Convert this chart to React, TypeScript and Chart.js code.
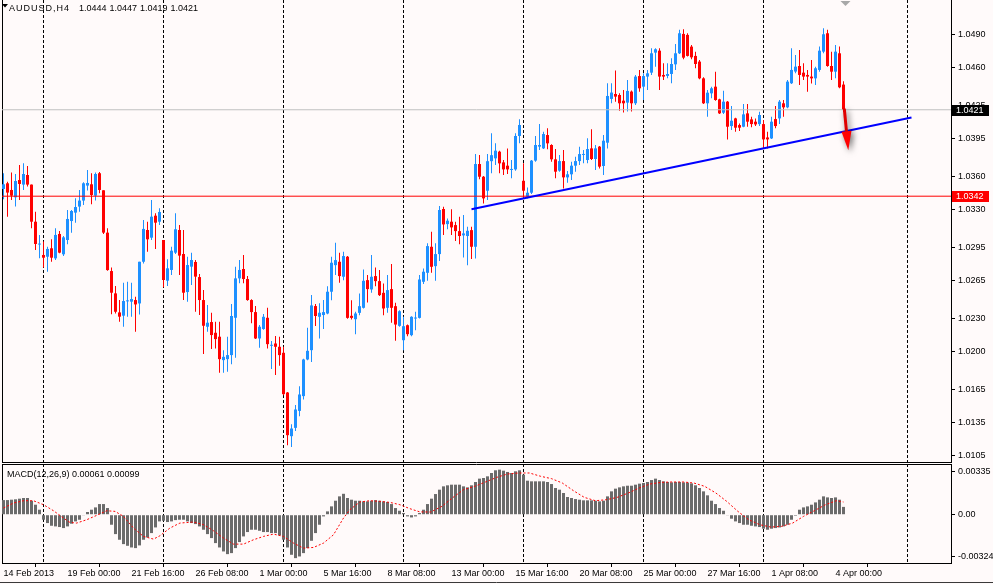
import { useEffect, useRef } from "react";
import { Chart, registerables } from "chart.js";

Chart.register(...registerables);

const BG = "#fffafa";
const BULL = "#1e90ff";
const BEAR = "#ff0000";
const FAMILY = "'Liberation Sans', Arial, sans-serif";
const FONT = { family: FAMILY, size: 9 };

// AUDUSD H4, bar 0 = 14 Feb 2013 08:00
const opens = [
  1.03486, 1.03538, 1.03477, 1.0341, 1.03568, 1.03526, 1.03614, 1.03526, 1.03187, 1.02978,
  1.02883, 1.02867, 1.02944, 1.02852, 1.03075, 1.02889, 1.0302, 1.03193, 1.0327, 1.03325,
  1.0338, 1.03517, 1.03529, 1.03425, 1.0363, 1.03474, 1.03087, 1.02736, 1.02532, 1.02358,
  1.02328, 1.02459, 1.02456, 1.02471, 1.0244, 1.02821, 1.03111, 1.03041, 1.03242, 1.03187,
  1.0302, 1.02648, 1.02746, 1.02904, 1.03111, 1.02892, 1.02544, 1.02776, 1.02819, 1.02681,
  1.02471, 1.02227, 1.0227, 1.02172, 1.02136, 1.01922, 1.01931, 1.01968, 1.02309, 1.02669,
  1.02755, 1.02663, 1.02471, 1.02361, 1.0212, 1.02206, 1.02309, 1.02053, 1.02074, 1.02044,
  1.01989, 1.01626, 1.01227, 1.01303, 1.01458, 1.01593, 1.01928, 1.02013, 1.02416, 1.02318,
  1.02334, 1.02348, 1.02547, 1.0279, 1.02821, 1.02684, 1.02867, 1.02327, 1.02296, 1.02354,
  1.024, 1.02653, 1.02568, 1.0269, 1.02644, 1.02537, 1.024, 1.02571, 1.02415, 1.02235,
  1.02104, 1.02241, 1.0215, 1.02302, 1.02308, 1.02638, 1.0272, 1.02958, 1.02781, 1.02891,
  1.03303, 1.03165, 1.03187, 1.03156, 1.03101, 1.03062, 1.03056, 1.0311, 1.02958, 1.03714,
  1.03598, 1.0347, 1.0374, 1.03766, 1.03827, 1.03729, 1.03699, 1.0366, 1.03665, 1.0397,
  1.03561, 1.03415, 1.03452, 1.03745, 1.03873, 1.03857, 1.03979, 1.03888, 1.03757, 1.03653,
  1.03741, 1.03592, 1.0362, 1.03699, 1.03741, 1.03797, 1.03751, 1.03857, 1.0376, 1.03873,
  1.03696, 1.03909, 1.04309, 1.04354, 1.04345, 1.04293, 1.04275, 1.04376, 1.04269, 1.04518,
  1.04421, 1.04513, 1.04549, 1.04732, 1.0475, 1.04528, 1.04519, 1.04537, 1.04625, 1.04726,
  1.04903, 1.04894, 1.04787, 1.04702, 1.0465, 1.04497, 1.04269, 1.0436, 1.04421, 1.04305,
  1.04183, 1.04284, 1.04061, 1.04131, 1.0407, 1.04055, 1.04177, 1.04122, 1.04101, 1.04079,
  1.04079, 1.03957, 1.03948, 1.04125, 1.04131, 1.04269, 1.04232, 1.04452, 1.04559, 1.0461,
  1.04549, 1.04528, 1.04513, 1.04497, 1.04574, 1.04741, 1.04909, 1.0461, 1.04558, 1.04726,
  1.0444,
];
const highs = [
  1.0363, 1.03553, 1.03636, 1.03623, 1.03706, 1.03721, 1.03697, 1.03526, 1.03279, 1.03066,
  1.03005, 1.02959, 1.03026, 1.03127, 1.03102, 1.03056, 1.03294, 1.03294, 1.03401, 1.03477,
  1.03547, 1.0366, 1.0363, 1.03636, 1.03642, 1.03474, 1.03127, 1.02769, 1.02599, 1.02471,
  1.0263, 1.02639, 1.0263, 1.02501, 1.02821, 1.03203, 1.03187, 1.03386, 1.03264, 1.03309,
  1.0302, 1.02843, 1.02959, 1.03264, 1.03157, 1.03112, 1.02867, 1.02904, 1.02837, 1.02709,
  1.02563, 1.02425, 1.02355, 1.02273, 1.02273, 1.02013, 1.02136, 1.02435, 1.02776, 1.02837,
  1.02883, 1.02691, 1.02478, 1.02416, 1.02242, 1.02343, 1.02401, 1.02096, 1.02142, 1.02136,
  1.02044, 1.0163, 1.01336, 1.01511, 1.01684, 1.01935, 1.02218, 1.02517, 1.02435, 1.02441,
  1.02471, 1.02598, 1.02867, 1.02995, 1.02903, 1.02912, 1.02873, 1.0247, 1.02363, 1.02531,
  1.02751, 1.02699, 1.02882, 1.02769, 1.02745, 1.02623, 1.02699, 1.028, 1.02446, 1.02378,
  1.02318, 1.02247, 1.02324, 1.02363, 1.02699, 1.0276, 1.02989, 1.03095, 1.02989, 1.0333,
  1.03324, 1.03217, 1.033, 1.03187, 1.03233, 1.03248, 1.03141, 1.03141, 1.03806, 1.03797,
  1.03605, 1.03806, 1.03995, 1.03903, 1.03836, 1.03751, 1.03857, 1.03751, 1.03995, 1.04123,
  1.0372, 1.035, 1.03751, 1.0397, 1.0408, 1.0401, 1.0404, 1.03894, 1.03851, 1.03797,
  1.03842, 1.0365, 1.03735, 1.03781, 1.03873, 1.03842, 1.03949, 1.04031, 1.03888, 1.03879,
  1.03979, 1.04452, 1.04452, 1.04568, 1.04361, 1.04391, 1.04483, 1.04385, 1.04528, 1.04574,
  1.04543, 1.04574, 1.04772, 1.04772, 1.04772, 1.04635, 1.04635, 1.0468, 1.04811, 1.0494,
  1.04946, 1.04909, 1.04802, 1.04741, 1.04665, 1.04506, 1.04391, 1.04421, 1.04558, 1.04311,
  1.04384, 1.0429, 1.04244, 1.04137, 1.04085, 1.04262, 1.04262, 1.04146, 1.04131, 1.04192,
  1.04116, 1.04009, 1.04146, 1.04244, 1.04299, 1.04299, 1.04482, 1.04772, 1.04711, 1.04756,
  1.04635, 1.04574, 1.04665, 1.04604, 1.04787, 1.04955, 1.0494, 1.04741, 1.04802, 1.04787,
  1.0447,
];
const lows = [
  1.03392, 1.03233, 1.03386, 1.03325, 1.03386, 1.03477, 1.03508, 1.03126, 1.02928, 1.02852,
  1.02769, 1.0273, 1.02822, 1.02837, 1.02898, 1.02873, 1.0298, 1.03087, 1.03178, 1.03279,
  1.0334, 1.03471, 1.03346, 1.0338, 1.03447, 1.03075, 1.02739, 1.02342, 1.02349, 1.02272,
  1.02227, 1.02319, 1.02319, 1.02181, 1.02339, 1.02806, 1.02913, 1.0302, 1.02937, 1.03157,
  1.02587, 1.02599, 1.027, 1.02892, 1.027, 1.02471, 1.02456, 1.02608, 1.02364, 1.02334,
  1.01977, 1.02181, 1.02023, 1.02029, 1.01806, 1.01806, 1.01815, 1.01885, 1.01943, 1.02624,
  1.02624, 1.02465, 1.02258, 1.02114, 1.02035, 1.022, 1.02029, 1.0184, 1.01785, 1.0187,
  1.01602, 1.01144, 1.01129, 1.01275, 1.0141, 1.01562, 1.0192, 1.01904, 1.02233, 1.0212,
  1.02206, 1.02342, 1.0247, 1.02699, 1.02629, 1.02653, 1.023, 1.02293, 1.02159, 1.02333,
  1.02394, 1.02449, 1.02537, 1.02598, 1.02507, 1.02333, 1.02354, 1.02263, 1.02098, 1.02226,
  1.02013, 1.02141, 1.02141, 1.02196, 1.02302, 1.02617, 1.02647, 1.0272, 1.02647, 1.02827,
  1.03065, 1.03117, 1.03065, 1.0301, 1.02982, 1.0286, 1.0279, 1.02845, 1.02851, 1.03574,
  1.03354, 1.03385, 1.03629, 1.03705, 1.03629, 1.03613, 1.03622, 1.03583, 1.03653, 1.03903,
  1.034, 1.034, 1.03439, 1.03735, 1.03842, 1.03851, 1.03848, 1.03735, 1.03583, 1.03644,
  1.03491, 1.03543, 1.03568, 1.03644, 1.03705, 1.0372, 1.0372, 1.03751, 1.03659, 1.03674,
  1.03613, 1.03857, 1.04269, 1.04284, 1.04202, 1.04184, 1.04193, 1.04193, 1.04254, 1.04375,
  1.04299, 1.04391, 1.04528, 1.04604, 1.04391, 1.04482, 1.04497, 1.04452, 1.04574, 1.0472,
  1.04671, 1.04696, 1.04671, 1.04589, 1.04488, 1.04262, 1.04147, 1.04314, 1.04293, 1.04171,
  1.04171, 1.03939, 1.04024, 1.04009, 1.04015, 1.04049, 1.04055, 1.04049, 1.04061, 1.04061,
  1.03857, 1.03857, 1.03942, 1.0404, 1.04079, 1.04146, 1.04223, 1.04445, 1.04543, 1.04436,
  1.04482, 1.04375, 1.04451, 1.04436, 1.04558, 1.04726, 1.04604, 1.04482, 1.04497, 1.04406,
  1.0419,
];
const closes = [
  1.03529, 1.03453, 1.03425, 1.03559, 1.03532, 1.03623, 1.03526, 1.03187, 1.02983, 1.02986,
  1.02858, 1.02938, 1.02858, 1.03066, 1.02904, 1.03044, 1.03212, 1.03285, 1.03321, 1.0338,
  1.03538, 1.03541, 1.03431, 1.03623, 1.03477, 1.03087, 1.02745, 1.02538, 1.02364, 1.02319,
  1.02462, 1.02468, 1.0248, 1.02431, 1.02821, 1.03121, 1.03026, 1.03233, 1.03178, 1.03276,
  1.02654, 1.02761, 1.02922, 1.03118, 1.02877, 1.02538, 1.02791, 1.02837, 1.02685, 1.02471,
  1.02236, 1.02264, 1.02151, 1.02114, 1.01931, 1.01952, 1.01968, 1.02325, 1.02669, 1.02746,
  1.02663, 1.02471, 1.02361, 1.0212, 1.02227, 1.02318, 1.02068, 1.02062, 1.02044, 1.01968,
  1.01611, 1.01236, 1.01297, 1.01471, 1.01608, 1.01928, 1.02007, 1.02422, 1.02325, 1.02355,
  1.02361, 1.02547, 1.02812, 1.02836, 1.0269, 1.02873, 1.02308, 1.02308, 1.02348, 1.02415,
  1.02647, 1.02571, 1.02684, 1.02644, 1.02516, 1.02394, 1.02562, 1.024, 1.02247, 1.02369,
  1.02232, 1.02159, 1.02318, 1.02311, 1.02659, 1.0273, 1.02964, 1.02775, 1.02891, 1.03294,
  1.03162, 1.03196, 1.03135, 1.03101, 1.03056, 1.0308, 1.03104, 1.02958, 1.03714, 1.03598,
  1.034, 1.0374, 1.03795, 1.03836, 1.0372, 1.03665, 1.03665, 1.03668, 1.0397, 1.04071,
  1.0347, 1.03452, 1.03745, 1.03888, 1.03888, 1.03988, 1.03903, 1.03757, 1.03644, 1.03741,
  1.03592, 1.0362, 1.03699, 1.03741, 1.03805, 1.03805, 1.03851, 1.0376, 1.03857, 1.0369,
  1.03927, 1.04336, 1.04367, 1.0433, 1.04269, 1.04269, 1.04382, 1.04269, 1.04513, 1.04406,
  1.04518, 1.04543, 1.04726, 1.04763, 1.04513, 1.04513, 1.04537, 1.04628, 1.04726, 1.04909,
  1.04686, 1.04702, 1.04689, 1.04628, 1.04497, 1.04269, 1.04366, 1.04406, 1.04299, 1.04177,
  1.04284, 1.04055, 1.0411, 1.04046, 1.04046, 1.04168, 1.04101, 1.04079, 1.04076, 1.04162,
  1.03939, 1.03939, 1.04101, 1.04061, 1.04284, 1.04232, 1.04467, 1.04574, 1.04604, 1.04528,
  1.04513, 1.04513, 1.04497, 1.04589, 1.0475, 1.049, 1.0461, 1.04558, 1.04741, 1.04415,
  1.0421,
];

// MACD(12,26,9) main line per bar, in units of 0.00001
const macdMain = [
  114, 114, 117, 120, 125, 130, 130, 109, 78, 39,
  -39, -65, -86, -91, -96, -104, -91, -70, -52, -39,
  -5, 21, 39, 57, 83, 83, 52, -78, -151, -195,
  -229, -242, -255, -260, -239, -195, -177, -143, -99, -52,
  -47, -57, -52, -42, -39, -39, -52, -65, -73, -91,
  -117, -151, -182, -221, -255, -286, -307, -299, -260, -213,
  -169, -135, -117, -117, -125, -135, -135, -143, -143, -161,
  -195, -255, -312, -338, -325, -299, -260, -203, -143, -78,
  -13, 26, 65, 109, 143, 163, 130, 117, 109, 109,
  104, 104, 109, 114, 109, 104, 99, 83, 52, 31,
  13, -13, -21, -13, 13, 39, 83, 125, 161, 195,
  221, 229, 234, 234, 234, 221, 213, 229, 255, 281,
  286, 299, 325, 346, 351, 343, 333, 325, 338, 346,
  312, 265, 260, 260, 260, 260, 255, 239, 208, 195,
  169, 138, 130, 122, 117, 112, 112, 112, 109, 104,
  109, 143, 182, 203, 213, 221, 226, 226, 234, 242,
  247, 255, 270, 281, 270, 260, 255, 252, 255, 255,
  252, 250, 244, 229, 208, 182, 151, 109, 83, 52,
  31, -5, -31, -52, -65, -78, -78, -86, -91, -96,
  -109, -117, -109, -104, -99, -91, -78, -39, -8, 39,
  57, 65, 78, 96, 117, 143, 135, 130, 135, 117,
  61,
];
// signal line (bar position, value in 0.00001)
const signalBars = [
  0, 2.5, 5, 7.5, 10, 12.5, 15, 16.6, 18.3, 20.8, 23.3, 25.8, 27.9, 30, 32.5, 35, 37.5, 39.1,
  41.6, 44.1, 47.5, 50, 52.5, 55, 57.5, 60, 62.5, 65, 67.5, 70, 72.5, 75, 77.5, 80, 82.5, 85,
  86.6, 89.1, 91.6, 94.1, 96.6, 99.1, 101.6, 104.1, 106.8, 109.6, 112.4, 115, 117.8, 120.5,
  123.3, 126, 128.8, 131.5, 134.3, 137, 139.7, 142.5, 145.2, 148, 150.7, 153.4, 156.2, 158.9,
  161.6, 164.4, 167.1, 169.9, 172.6, 175.3, 178.1, 180.8, 183.6, 186.3, 189.1, 191.8, 194.5,
  197.3, 200, 202.7, 205.5, 208.2, 210,
];
const signalVals = [
  52, 91, 109, 109, 78, 31, -26, -60, -65, -39, -5, 31, 26, -13, -104, -169, -190, -164,
  -104, -65, -57, -78, -125, -182, -229, -229, -195, -169, -151, -169, -221, -260, -255, -221,
  -156, -26, 39, 99, 109, 104, 96, 78, 47, 22, 21, 65, 135, 195, 221, 255, 291, 317, 325, 325,
  299, 281, 247, 187, 135, 109, 117, 135, 169, 208, 239, 252, 255, 255, 247, 221, 169, 104, 26,
  -39, -78, -96, -91, -65, -13, 31, 78, 109, 99,
];
const MACD_UNIT = 0.00001;

const weekBars = [10, 40, 70, 100, 130, 160, 190, 226];
const labelBars = [0, 16, 32, 48, 64, 80, 96, 112, 128, 144, 160, 176, 192, 208];
const timeLabels = [
  "14 Feb 2013", "19 Feb 00:00", "21 Feb 16:00", "26 Feb 08:00", "1 Mar 00:00", "5 Mar 16:00",
  "8 Mar 08:00", "13 Mar 00:00", "15 Mar 16:00", "20 Mar 08:00", "25 Mar 00:00",
  "27 Mar 16:00", "1 Apr 08:00", "4 Apr 00:00",
];
const priceTicks = [1.049, 1.046, 1.0425, 1.0395, 1.036, 1.033, 1.0295, 1.0265, 1.023, 1.02, 1.0165, 1.0135, 1.0105];
const macdTicks = [0.00335, 0, -0.00324];

const bidLine = 1.0421;
const levelLine = 1.0342;
const trendBars = [117, 227];
const trendPrices = [1.033, 1.0414];
const arrowBars = [210.2, 211.2];
const arrowPrices = [1.0422, 1.0384];
const shiftBar = 210.5;

const X_MIN = -0.375;
const X_MAX = 236.875;
const PRICE_MIN = 1.00991;
const PRICE_MAX = 1.05213;
const MACD_MIN = -0.00376;
const MACD_MAX = 0.00395;

// keep chart areas exactly where the layout padding puts them
function noAxisPadding(s: any) {
  s.paddingTop = 0;
  s.paddingBottom = 0;
  s.paddingLeft = 0;
  s.paddingRight = 0;
}

function drawWeekLines(chart: any) {
  const { ctx, chartArea: a, scales } = chart;
  ctx.save();
  ctx.strokeStyle = "#000";
  ctx.lineWidth = 1;
  ctx.setLineDash([3, 2]);
  for (const b of weekBars) {
    const px = Math.floor(scales.x.getPixelForValue(b)) + 0.5;
    if (px > a.right) continue;
    ctx.beginPath();
    ctx.moveTo(px, a.top);
    ctx.lineTo(px, a.bottom);
    ctx.stroke();
  }
  ctx.setLineDash([]);
  ctx.beginPath();
  ctx.moveTo(a.left + 0.5, a.top);
  ctx.lineTo(a.left + 0.5, a.bottom + 0.5);
  ctx.stroke();
  ctx.restore();
}

const background = {
  id: "background",
  beforeDraw(chart: any) {
    const { ctx, width, height } = chart;
    ctx.save();
    ctx.fillStyle = BG;
    ctx.fillRect(0, 0, width, height);
    ctx.restore();
  },
};

const mainOverlay = {
  id: "mainOverlay",
  beforeDatasetsDraw(chart: any) {
    drawWeekLines(chart);
    const { ctx, chartArea: a } = chart;
    ctx.save();
    ctx.strokeStyle = "#000";
    ctx.beginPath();
    ctx.moveTo(a.left, a.bottom + 0.5);
    ctx.lineTo(a.right, a.bottom + 0.5);
    ctx.stroke();
    ctx.restore();
  },
  afterDraw(chart: any) {
    const { ctx, scales } = chart;
    const x = scales.x;
    const y = scales.y;
    ctx.save();

    // price boxes on the right axis
    ctx.font = `9px ${FAMILY}`;
    ctx.textBaseline = "middle";
    const boxes: [number, string][] = [[bidLine, "#000000"], [levelLine, "#ff0000"]];
    for (const [v, c] of boxes) {
      const cy = Math.round(y.getPixelForValue(v));
      ctx.fillStyle = c;
      ctx.fillRect(952, cy - 5, 37, 11);
      ctx.fillStyle = "#ffffff";
      ctx.fillText(v.toFixed(4), 956, cy + 0.5);
    }

    // down arrow
    const x1 = x.getPixelForValue(arrowBars[0]);
    const y1 = y.getPixelForValue(arrowPrices[0]);
    const x2 = x.getPixelForValue(arrowBars[1]);
    const y2 = y.getPixelForValue(arrowPrices[1]);
    const ang = Math.atan2(y2 - y1, x2 - x1);
    const headLen = 19;
    const headW = 5;
    const bx = x2 - headLen * Math.cos(ang);
    const by = y2 - headLen * Math.sin(ang);
    ctx.shadowColor = "rgba(0,0,0,0.6)";
    ctx.shadowBlur = 6;
    ctx.shadowOffsetX = 2;
    ctx.shadowOffsetY = 2;
    ctx.strokeStyle = "#e00000";
    ctx.lineWidth = 3;
    ctx.beginPath();
    ctx.moveTo(x1, y1);
    ctx.lineTo(bx, by);
    ctx.stroke();
    ctx.fillStyle = "#ff0000";
    ctx.beginPath();
    ctx.moveTo(x2, y2);
    ctx.lineTo(bx + headW * Math.sin(ang), by - headW * Math.cos(ang));
    ctx.lineTo(bx - headW * Math.sin(ang), by + headW * Math.cos(ang));
    ctx.closePath();
    ctx.fill();
    ctx.shadowColor = "transparent";
    ctx.shadowBlur = 0;
    ctx.shadowOffsetX = 0;
    ctx.shadowOffsetY = 0;

    // chart shift marker
    const sx = Math.floor(x.getPixelForValue(shiftBar)) + 0.5;
    ctx.fillStyle = "#a8a8a8";
    ctx.beginPath();
    ctx.moveTo(sx - 5, 1);
    ctx.lineTo(sx + 5, 1);
    ctx.lineTo(sx, 6);
    ctx.closePath();
    ctx.fill();

    // title
    ctx.fillStyle = "#000";
    ctx.beginPath();
    ctx.moveTo(2, 4);
    ctx.lineTo(8, 4);
    ctx.lineTo(5, 7.5);
    ctx.closePath();
    ctx.fill();
    ctx.textBaseline = "alphabetic";
    ctx.font = `9px ${FAMILY}`;
    (ctx as any).letterSpacing = "1px";
    ctx.fillText("AUDUSD,H4", 9, 10.5);
    (ctx as any).letterSpacing = "0px";
    const last = opens.length - 1;
    const ohlc = [opens[last], highs[last], lows[last], closes[last]];
    ohlc.forEach((v, k) => ctx.fillText(v.toFixed(4), 79 + k * 30.5, 10.5));
    ctx.restore();
  },
};

const macdOverlay = {
  id: "macdOverlay",
  beforeDatasetsDraw(chart: any) {
    drawWeekLines(chart);
    const { ctx, chartArea: a } = chart;
    ctx.save();
    ctx.strokeStyle = "#000";
    ctx.beginPath();
    ctx.moveTo(a.left, a.top + 0.5);
    ctx.lineTo(a.right, a.top + 0.5);
    ctx.stroke();
    ctx.restore();
  },
  afterDraw(chart: any) {
    const { ctx, width } = chart;
    ctx.save();
    ctx.fillStyle = "#000";
    ctx.font = `9px ${FAMILY}`;
    ctx.textBaseline = "alphabetic";
    const m = macdMain[macdMain.length - 1] * MACD_UNIT;
    const s = signalVals[signalVals.length - 1] * MACD_UNIT;
    ctx.fillText(`MACD(12,26,9) ${m.toFixed(5)} ${s.toFixed(5)}`, 7, 14);
    ctx.strokeStyle = "#3a3a3a";
    ctx.beginPath();
    ctx.moveTo(0, 119.5);
    ctx.lineTo(width, 119.5);
    ctx.stroke();
    ctx.restore();
  },
};

export default function App() {
  const mainRef = useRef<HTMLCanvasElement>(null);
  const macdRef = useRef<HTMLCanvasElement>(null);

  useEffect(() => {
    document.body.style.margin = "0";
    document.body.style.background = BG;
    if (!mainRef.current || !macdRef.current) return;

    const bars = closes.map((_, i) => i);
    const colors = bars.map((i) => (closes[i] >= opens[i] ? BULL : BEAR));

    const main = new Chart(mainRef.current, {
      type: "bar",
      data: {
        datasets: [
          {
            type: "line",
            data: trendBars.map((b, k) => ({ x: b, y: trendPrices[k] })),
            borderColor: "#0000ff",
            borderWidth: 2,
            pointRadius: 0,
            order: 0,
          },
          {
            type: "line",
            data: [{ x: X_MIN, y: bidLine }, { x: X_MAX, y: bidLine }],
            borderColor: "#c0c0c0",
            borderWidth: 1,
            pointRadius: 0,
            order: 1,
          },
          {
            type: "line",
            data: [{ x: X_MIN, y: levelLine }, { x: X_MAX, y: levelLine }],
            borderColor: "#ff0000",
            borderWidth: 1,
            pointRadius: 0,
            order: 1,
          },
          {
            type: "bar",
            data: bars.map((i) => ({ x: i, y: [opens[i], closes[i]] })),
            backgroundColor: colors,
            barThickness: 3,
            maxBarThickness: 3,
            minBarLength: 1,
            grouped: false,
            inflateAmount: 0,
            order: 2,
          },
          {
            type: "bar",
            data: bars.map((i) => ({ x: i, y: [lows[i], highs[i]] })),
            backgroundColor: colors,
            barThickness: 1,
            maxBarThickness: 1,
            grouped: false,
            inflateAmount: 0,
            order: 3,
          },
        ] as any,
      },
      options: {
        responsive: false,
        devicePixelRatio: 1,
        animation: false,
        events: [],
        layout: { padding: { left: 2, top: 0, right: 0, bottom: 1 } },
        plugins: { legend: { display: false }, tooltip: { enabled: false } },
        scales: {
          x: {
            type: "linear",
            min: X_MIN,
            max: X_MAX,
            offset: false,
            display: false,
            afterBuildTicks: (s: any) => {
              s.ticks = weekBars.map((value) => ({ value }));
            },
          },
          y: {
            type: "linear",
            position: "right",
            min: PRICE_MIN,
            max: PRICE_MAX,
            afterBuildTicks: (s: any) => {
              s.ticks = priceTicks.map((value) => ({ value }));
            },
            afterFit: (s: any) => {
              s.width = 42;
              noAxisPadding(s);
            },
            ticks: {
              autoSkip: false,
              color: "#000",
              font: FONT,
              padding: 3,
              callback: (v: any) => Number(v).toFixed(4),
            },
            grid: { drawOnChartArea: false, drawTicks: true, tickLength: 4, color: "#000" },
            border: { display: true, color: "#000" },
          },
        },
      } as any,
      plugins: [background, mainOverlay],
    });

    const macd = new Chart(macdRef.current, {
      type: "bar",
      data: {
        datasets: [
          {
            type: "line",
            data: signalBars.map((b, k) => ({ x: b, y: signalVals[k] * MACD_UNIT })),
            borderColor: "#ff0000",
            borderWidth: 1,
            borderDash: [2, 2],
            pointRadius: 0,
            order: 0,
          },
          {
            type: "bar",
            data: macdMain.map((v, i) => ({ x: i, y: v * MACD_UNIT })),
            backgroundColor: "#6b6b6b",
            barThickness: 3,
            maxBarThickness: 3,
            grouped: false,
            inflateAmount: 0,
            order: 1,
          },
        ] as any,
      },
      options: {
        responsive: false,
        devicePixelRatio: 1,
        animation: false,
        events: [],
        layout: { padding: { left: 2, top: 1, right: 0, bottom: 0 } },
        plugins: { legend: { display: false }, tooltip: { enabled: false } },
        scales: {
          x: {
            type: "linear",
            position: "bottom",
            min: X_MIN,
            max: X_MAX,
            offset: false,
            afterBuildTicks: (s: any) => {
              s.ticks = labelBars.map((value) => ({ value }));
            },
            afterFit: (s: any) => {
              s.height = 21;
              noAxisPadding(s);
            },
            ticks: {
              autoSkip: false,
              maxRotation: 0,
              minRotation: 0,
              align: "start",
              color: "#000",
              font: FONT,
              padding: 1,
              callback: (_v: any, k: number) => timeLabels[k],
            },
            grid: { drawOnChartArea: false, drawTicks: true, tickLength: 4, color: "#000" },
            border: { display: true, color: "#000" },
          },
          y: {
            type: "linear",
            position: "right",
            min: MACD_MIN,
            max: MACD_MAX,
            afterBuildTicks: (s: any) => {
              s.ticks = macdTicks.map((value) => ({ value }));
            },
            afterFit: (s: any) => {
              s.width = 42;
              noAxisPadding(s);
            },
            ticks: {
              autoSkip: false,
              color: "#000",
              font: FONT,
              padding: 3,
              callback: (v: any) => (Number(v) === 0 ? "0.00" : Number(v).toFixed(5)),
            },
            grid: { drawOnChartArea: false, drawTicks: true, tickLength: 4, color: "#000" },
            border: { display: true, color: "#000" },
          },
        },
      } as any,
      plugins: [background, macdOverlay],
    });

    return () => {
      main.destroy();
      macd.destroy();
    };
  }, []);

  return (
    <div style={{ width: 993, height: 584, background: BG }}>
      <canvas ref={mainRef} width={993} height={463} style={{ display: "block" }} />
      <canvas ref={macdRef} width={993} height={121} style={{ display: "block" }} />
    </div>
  );
}
